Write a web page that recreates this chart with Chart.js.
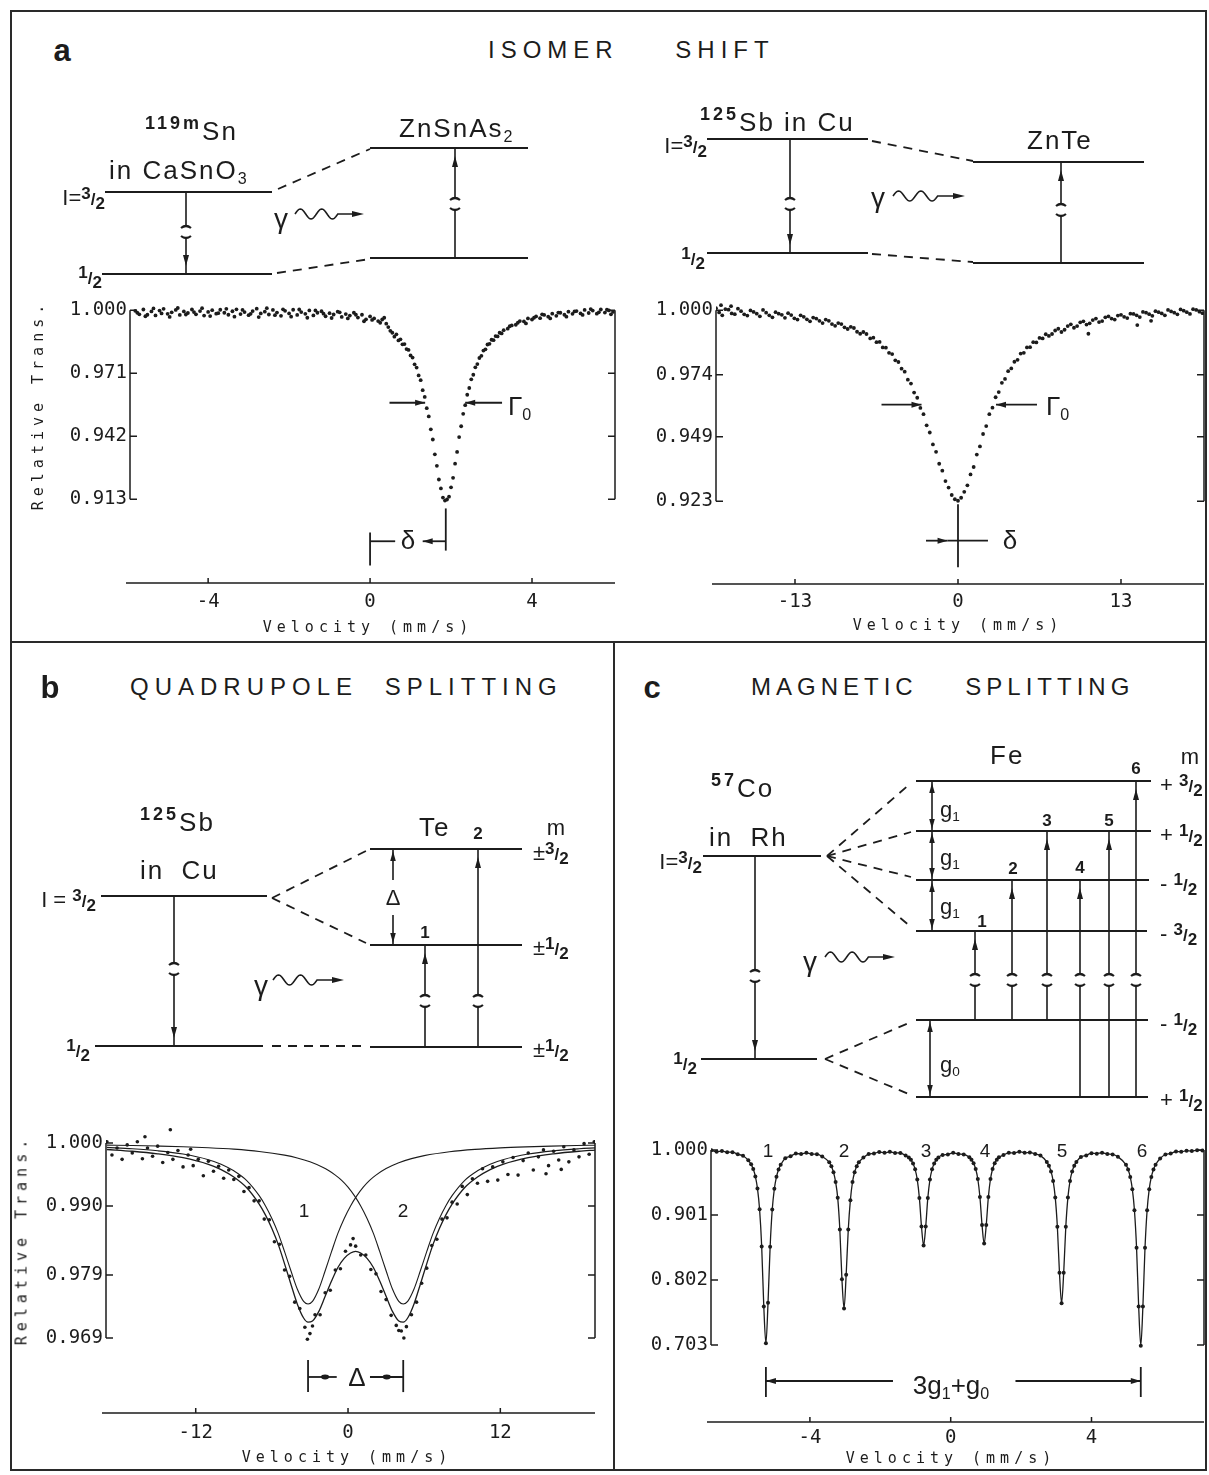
<!DOCTYPE html>
<html lang="en">
<head>
<meta charset="UTF-8">
<title>Mössbauer hyperfine interactions</title>
<script src="https://cdn.jsdelivr.net/npm/chart.js"></script>
<style>
  body { margin: 0; background: #fff; }
  #page { position: relative; width: 1209px; height: 1475px; overflow: hidden; background: #fff; color: #1c1c1c;
          font-family: "Liberation Sans", Arial, sans-serif; }
  canvas { position: absolute; }
  .rule { position: absolute; background: #2a2a2a; }
  .t { position: absolute; white-space: nowrap; line-height: 1; transform: translate(0, -50%); }
  .c { transform: translate(-50%, -50%); }
  .r { transform: translate(-100%, -50%); }
  .vert { transform: translate(-50%, -50%) rotate(-90deg); }
  .pl { font-size: 31px; font-weight: bold; }
  .ttl { font-size: 24px; letter-spacing: 6px; }
  .iso { font-size: 26px; letter-spacing: 2px; }
  .m { font-size: 18px; font-weight: bold; letter-spacing: 3px; position: relative; top: -11px; }
  sub { font-size: 0.62em; vertical-align: baseline; position: relative; top: 0.3em; }
  .lv { font-size: 22px; }
  .fr { font-size: 17px; font-weight: bold; }
  .fr .n { position: relative; top: -6px; }
  .fr .d { position: relative; top: 4px; }
  .num { font-size: 17px; font-weight: bold; }
  .gam { font-size: 28px; }
  .sym { font-size: 26px; }
  .pk { font-size: 19px; }
  .ax { font-family: "DejaVu Sans Mono", monospace; font-size: 15px; letter-spacing: 5px; }
</style>
</head>
<body>
<div id="page">
  <div class="rule" style="left:10px;top:10px;width:1197px;height:2px"></div>
  <div class="rule" style="left:10px;top:1469px;width:1197px;height:2px"></div>
  <div class="rule" style="left:10px;top:10px;width:2px;height:1461px"></div>
  <div class="rule" style="left:1205px;top:10px;width:2px;height:1461px"></div>
  <div class="rule" style="left:10px;top:641px;width:1197px;height:2px"></div>
  <div class="rule" style="left:613px;top:641px;width:2px;height:830px"></div>

  <canvas id="schemeA" width="1209" height="200" style="left:0;top:90px"></canvas>
  <canvas id="schemeB" width="612" height="380" style="left:0;top:720px"></canvas>
  <canvas id="schemeC" width="597" height="400" style="left:612px;top:720px"></canvas>
  <canvas id="specSn" width="600" height="360" style="left:20px;top:280px"></canvas>
  <canvas id="specSb" width="594" height="360" style="left:615px;top:280px"></canvas>
  <canvas id="specTe" width="605" height="360" style="left:10px;top:1110px"></canvas>
  <canvas id="specFe" width="594" height="360" style="left:615px;top:1110px"></canvas>

  <!-- panel a -->
  <div class="t c pl" style="left:62px;top:50px">a</div>
  <div class="t ttl" style="left:488px;top:50px;word-spacing:44px">ISOMER SHIFT</div>
  <div class="t iso" style="left:145px;top:131px"><span class="m">119m</span>Sn</div>
  <div class="t iso" style="left:109px;top:170px">in CaSnO<sub>3</sub></div>
  <div class="t r lv" style="left:105px;top:198px">I=<span class="fr"><span class="n">3</span>/<span class="d">2</span></span></div>
  <div class="t r lv" style="left:102px;top:277px"><span class="fr"><span class="n">1</span>/<span class="d">2</span></span></div>
  <div class="t iso" style="left:399px;top:128px">ZnSnAs<sub>2</sub></div>
  <div class="t c gam" style="left:281px;top:219px">γ</div>
  <div class="t iso" style="left:700px;top:122px"><span class="m">125</span>Sb in Cu</div>
  <div class="t r lv" style="left:707px;top:146px">I=<span class="fr"><span class="n">3</span>/<span class="d">2</span></span></div>
  <div class="t r lv" style="left:705px;top:258px"><span class="fr"><span class="n">1</span>/<span class="d">2</span></span></div>
  <div class="t iso" style="left:1027px;top:140px">ZnTe</div>
  <div class="t c gam" style="left:878px;top:198px">γ</div>
  <div class="t sym" style="left:508px;top:406px">Γ<sub>0</sub></div>
  <div class="t sym" style="left:1046px;top:406px">Γ<sub>0</sub></div>
  <div class="t c sym" style="left:408px;top:540px">δ</div>
  <div class="t c sym" style="left:1010px;top:540px">δ</div>
  <div class="t ax vert" style="left:38px;top:405px">Relative Trans.</div>
  <div class="t c ax" style="left:368px;top:627px">Velocity (mm/s)</div>
  <div class="t c ax" style="left:958px;top:625px">Velocity (mm/s)</div>

  <!-- panel b -->
  <div class="t c pl" style="left:50px;top:687px">b</div>
  <div class="t ttl" style="left:130px;top:687px;word-spacing:14px">QUADRUPOLE SPLITTING</div>
  <div class="t iso" style="left:140px;top:822px"><span class="m">125</span>Sb</div>
  <div class="t iso" style="left:140px;top:870px;word-spacing:8px">in Cu</div>
  <div class="t r lv" style="left:96px;top:900px">I = <span class="fr"><span class="n">3</span>/<span class="d">2</span></span></div>
  <div class="t r lv" style="left:90px;top:1050px"><span class="fr"><span class="n">1</span>/<span class="d">2</span></span></div>
  <div class="t iso" style="left:419px;top:827px">Te</div>
  <div class="t c num" style="left:478px;top:833px">2</div>
  <div class="t c lv" style="left:556px;top:828px">m</div>
  <div class="t lv" style="left:533px;top:853px">±<span class="fr"><span class="n">3</span>/<span class="d">2</span></span></div>
  <div class="t lv" style="left:533px;top:948px">±<span class="fr"><span class="n">1</span>/<span class="d">2</span></span></div>
  <div class="t lv" style="left:533px;top:1050px">±<span class="fr"><span class="n">1</span>/<span class="d">2</span></span></div>
  <div class="t c num" style="left:425px;top:932px">1</div>
  <div class="t c lv" style="left:393px;top:898px">Δ</div>
  <div class="t c gam" style="left:261px;top:986px">γ</div>
  <div class="t c pk" style="left:304px;top:1210px">1</div>
  <div class="t c pk" style="left:403px;top:1210px">2</div>
  <div class="t c sym" style="left:357px;top:1377px">Δ</div>
  <div class="t ax vert" style="left:22px;top:1240px">Relative Trans.</div>
  <div class="t c ax" style="left:347px;top:1457px">Velocity (mm/s)</div>

  <!-- panel c -->
  <div class="t c pl" style="left:652px;top:687px">c</div>
  <div class="t ttl" style="left:751px;top:687px;letter-spacing:5px;word-spacing:36px">MAGNETIC SPLITTING</div>
  <div class="t iso" style="left:711px;top:788px"><span class="m">57</span>Co</div>
  <div class="t iso" style="left:709px;top:837px;word-spacing:8px">in Rh</div>
  <div class="t r lv" style="left:702px;top:862px">I=<span class="fr"><span class="n">3</span>/<span class="d">2</span></span></div>
  <div class="t r lv" style="left:697px;top:1063px"><span class="fr"><span class="n">1</span>/<span class="d">2</span></span></div>
  <div class="t iso" style="left:990px;top:755px">Fe</div>
  <div class="t c lv" style="left:1190px;top:757px">m</div>
  <div class="t lv" style="left:1160px;top:785px">+ <span class="fr"><span class="n">3</span>/<span class="d">2</span></span></div>
  <div class="t lv" style="left:1160px;top:835px">+ <span class="fr"><span class="n">1</span>/<span class="d">2</span></span></div>
  <div class="t lv" style="left:1160px;top:884px">- <span class="fr"><span class="n">1</span>/<span class="d">2</span></span></div>
  <div class="t lv" style="left:1160px;top:934px">- <span class="fr"><span class="n">3</span>/<span class="d">2</span></span></div>
  <div class="t lv" style="left:1160px;top:1024px">- <span class="fr"><span class="n">1</span>/<span class="d">2</span></span></div>
  <div class="t lv" style="left:1160px;top:1100px">+ <span class="fr"><span class="n">1</span>/<span class="d">2</span></span></div>
  <div class="t c num" style="left:982px;top:921px">1</div>
  <div class="t c num" style="left:1013px;top:868px">2</div>
  <div class="t c num" style="left:1047px;top:820px">3</div>
  <div class="t c num" style="left:1080px;top:867px">4</div>
  <div class="t c num" style="left:1109px;top:820px">5</div>
  <div class="t c num" style="left:1136px;top:768px">6</div>
  <div class="t lv" style="left:940px;top:810px">g<sub>1</sub></div>
  <div class="t lv" style="left:940px;top:858px">g<sub>1</sub></div>
  <div class="t lv" style="left:940px;top:907px">g<sub>1</sub></div>
  <div class="t lv" style="left:940px;top:1065px">g<sub>0</sub></div>
  <div class="t c gam" style="left:810px;top:962px">γ</div>
  <div class="t c pk" style="left:768px;top:1150px">1</div>
  <div class="t c pk" style="left:844px;top:1150px">2</div>
  <div class="t c pk" style="left:926px;top:1150px">3</div>
  <div class="t c pk" style="left:985px;top:1150px">4</div>
  <div class="t c pk" style="left:1062px;top:1150px">5</div>
  <div class="t c pk" style="left:1142px;top:1150px">6</div>
  <div class="t c sym" style="left:951px;top:1385px">3g<sub>1</sub>+g<sub>0</sub></div>
  <div class="t c ax" style="left:951px;top:1458px">Velocity (mm/s)</div>
</div>

<script>
const INK = '#1c1c1c';

// ---- spectra: [velocity mm/s, relative transmission] ----
const snSpectrum = [
  [-5.8,.9997],[-5.7,.9981],[-5.6,1.0003],[-5.5,.9979],[-5.4,.9994],[-5.3,.9976],[-5.2,.9998],[-5.1,1.0006],
  [-5.0,.9983],[-4.9,.9990],[-4.8,1.0001],[-4.7,.9978],[-4.6,.9994],[-4.5,.9987],[-4.4,1.0003],[-4.3,.9981],
  [-4.2,.9996],[-4.1,.9975],[-4.0,.9992],[-3.9,1.0000],[-3.8,.9984],[-3.7,1.0002],[-3.6,.9988],[-3.5,.9979],
  [-3.4,.9995],[-3.3,1.0004],[-3.2,.9982],[-3.1,.9991],[-3.0,.9977],[-2.9,.9996],[-2.8,1.0007],[-2.7,.9985],
  [-2.6,.9993],[-2.5,.9980],[-2.4,1.0001],[-2.3,.9989],[-2.2,.9974],[-2.1,.9997],[-2.0,.9985],[-1.9,1.0002],
  [-1.8,.9978],[-1.7,.9991],[-1.6,.9983],[-1.5,.9999],[-1.4,.9976],[-1.3,.9988],[-1.2,.9995],[-1.1,.9972],
  [-1.0,.9986],[-0.9,.9980],[-0.8,.9993],[-0.7,.9969],[-0.6,.9982],[-0.5,.9975],[-0.4,.9988],[-0.3,.9966],
  [-0.2,.9979],[-0.1,.9958],[0.0,.9971],[0.1,.9962],[0.2,.9950],[0.3,.9957],[0.4,.9938],
  [0.45,.9922],[0.50,.9905],[0.55,.9896],[0.60,.9878],[0.65,.9889],[0.70,.9861],[0.75,.9866],[0.80,.9843],
  [0.85,.9844],[0.90,.9821],[0.95,.9817],[1.00,.9792],[1.05,.9782],[1.10,.9751],[1.15,.9736],[1.20,.9700],
  [1.25,.9678],[1.30,.9632],[1.35,.9601],[1.40,.9549],[1.45,.9511],[1.50,.9452],[1.55,.9405],[1.60,.9337],
  [1.65,.9284],[1.70,.9221],[1.75,.9180],[1.80,.9138],[1.85,.9124],[1.90,.9129],[1.95,.9142],[2.00,.9185],
  [2.05,.9229],[2.10,.9294],[2.15,.9348],[2.20,.9416],[2.25,.9466],[2.30,.9523],[2.35,.9563],[2.40,.9611],
  [2.45,.9642],[2.50,.9682],[2.55,.9703],[2.60,.9737],[2.65,.9752],[2.70,.9780],[2.75,.9790],[2.80,.9814],
  [2.85,.9820],[2.90,.9842],[2.95,.9845],[3.00,.9864],[3.05,.9862],[3.10,.9881],[3.15,.9879],[3.20,.9896],
  [3.25,.9893],[3.30,.9908],[3.4,.9915],[3.5,.9930],[3.6,.9933],[3.7,.9950],[3.8,.9948],[3.9,.9962],
  [4.0,.9957],[4.1,.9971],[4.2,.9963],[4.3,.9978],[4.4,.9970],[4.5,.9984],[4.6,.9974],[4.7,.9988],
  [4.8,.9979],[4.9,.9993],[5.0,.9983],[5.1,.9996],[5.2,.9985],[5.3,1.0001],[5.4,.9987],[5.5,.9998],
  [5.6,.9984],[5.7,1.0003],[5.8,.9989],[5.9,.9999],[6.0,.9992],
  // interleaved channels of the scattered baseline
  [-5.75,.9988],[-5.55,.9972],[-5.35,1.0008],[-5.15,.9985],[-4.95,.9969],[-4.75,1.0010],[-4.55,.9980],
  [-4.35,.9991],[-4.15,1.0009],[-3.95,.9973],[-3.75,.9986],[-3.55,1.0006],[-3.35,.9970],[-3.15,1.0001],
  [-2.95,.9983],[-2.75,.9968],[-2.55,1.0009],[-2.35,.9977],[-2.15,1.0004],[-1.95,.9970],[-1.75,1.0003],
  [-1.55,.9965],[-1.35,.9999],[-1.15,.9984],[-0.95,.9964],[-0.75,.9990],[-0.55,.9962],[-0.35,.9979],
  [-0.15,.9949],[0.05,.9955],[0.25,.9942],[0.35,.9965],
  [3.45,.9926],[3.65,.9942],[3.85,.9939],[4.05,.9965],[4.25,.9981],[4.45,.9962],[4.65,.9989],[4.85,.9970],
  [5.05,.9994],[5.25,.9978],[5.45,1.0005],[5.65,.9990],[5.85,1.0002],[5.95,.9981]
];

const sbSpectrum = [
  [-19.3,1.0008],[-18.9,1.0020],[-18.8,.9979],[-18.3,1.0002],[-18.1,1.0016],[-17.8,.9984],[-17.3,.9996],
  [-16.8,.9978],[-16.3,.9993],[-15.8,.9975],[-15.3,.9990],[-14.8,.9971],[-14.3,.9986],[-13.8,.9969],
  [-13.3,.9980],[-12.8,.9962],[-12.3,.9973],[-11.8,.9955],[-11.3,.9966],[-10.8,.9948],[-10.3,.9957],
  [-9.8,.9937],[-9.3,.9944],[-8.8,.9924],[-8.3,.9928],[-7.8,.9905],[-7.3,.9904],
  [-7.0,.9886],[-6.75,.9889],[-6.5,.9871],[-6.25,.9872],[-6.0,.9850],[-5.75,.9849],[-5.5,.9828],[-5.25,.9823],
  [-5.0,.9798],[-4.75,.9791],[-4.5,.9764],[-4.25,.9752],[-4.0,.9720],[-3.75,.9704],[-3.5,.9668],[-3.25,.9647],
  [-3.0,.9606],[-2.75,.9581],[-2.5,.9536],[-2.25,.9507],[-2.0,.9459],[-1.75,.9429],[-1.5,.9381],[-1.25,.9353],
  [-1.0,.9311],[-0.75,.9285],[-0.5,.9255],[-0.25,.9238],[0.0,.9232],[0.25,.9244],[0.5,.9268],[0.75,.9294],
  [1.0,.9338],[1.25,.9368],[1.5,.9418],[1.75,.9451],[2.0,.9501],[2.25,.9533],[2.5,.9581],[2.75,.9607],
  [3.0,.9649],[3.25,.9670],[3.5,.9707],[3.75,.9723],[4.0,.9754],[4.25,.9765],[4.5,.9792],[4.75,.9800],
  [5.0,.9825],[5.25,.9828],[5.5,.9850],[5.75,.9851],[6.0,.9871],[6.25,.9870],[6.5,.9888],[6.75,.9886],
  [7.0,.9903],[7.5,.9904],[8.0,.9925],[8.5,.9921],[9.0,.9943],[9.5,.9936],[10.0,.9955],[10.4,.9905],
  [10.5,.9947],[11.0,.9966],[11.5,.9956],[12.0,.9975],[12.5,.9962],[13.0,.9981],[13.5,.9968],[14.0,.9985],
  [14.3,.9940],[14.5,.9972],[15.0,.9990],[15.4,.9957],[15.5,.9977],[16.0,.9992],[16.5,.9979],[17.0,.9995],
  [17.5,.9983],[18.0,.9998],[18.5,.9985],[19.0,1.0001],[19.5,.9988],
  // interleaved wing channels
  [-19.05,.9991],[-18.55,1.0004],[-18.05,.9987],[-17.55,1.0006],[-17.05,.9983],[-16.55,.9999],[-16.05,.9986],
  [-15.55,1.0001],[-15.05,.9979],[-14.55,.9992],[-14.05,.9981],[-13.55,.9988],[-13.05,.9967],[-12.55,.9979],
  [-12.05,.9963],[-11.55,.9970],[-11.05,.9957],[-10.55,.9962],[-10.05,.9944],[-9.55,.9948],[-9.05,.9931],
  [-8.55,.9933],[-8.05,.9913],[-7.55,.9912],
  [7.25,.9896],[7.75,.9918],[8.25,.9912],[8.75,.9936],[9.25,.9929],[9.75,.9951],[10.25,.9942],[10.75,.9960],
  [11.25,.9952],[11.75,.9971],[12.25,.9966],[12.75,.9978],[13.25,.9973],[13.75,.9986],[14.25,.9979],
  [14.75,.9993],[15.25,.9984],[15.75,.9996],[16.25,.9987],[16.75,1.0001],[17.25,.9990],[17.75,1.0003],
  [18.25,.9992],[18.75,1.0004],[19.25,.9994]
];

const teSpectrum = [
  [-19.0,1.0002],[-18.6,.9981],[-18.2,.9992],[-17.8,.9974],[-17.4,.9997],[-17.0,.9984],[-16.6,1.0002],
  [-16.2,.9975],[-16.0,1.0010],[-15.8,.9992],[-15.4,.9979],[-15.0,.9995],[-14.6,.9969],[-14.2,.9985],
  [-14.0,1.0021],[-13.8,.9974],[-13.4,.9988],[-13.0,.9962],[-12.6,.9981],[-12.4,.9990],[-12.2,.9964],
  [-11.8,.9974],[-11.4,.9948],[-11.0,.9971],[-10.6,.9955],[-10.2,.9963],[-9.8,.9944],[-9.4,.9957],
  [-9.0,.9942],[-8.6,.9947],[-8.2,.9923],[-7.8,.9929],[-7.4,.9908],[-7.0,.9908],[-6.6,.9879],[-6.2,.9878],
  [-5.8,.9843],[-5.4,.9839],[-5.0,.9798],[-4.6,.9788],[-4.2,.9747],[-3.8,.9737],[-3.4,.9707],[-3.2,.9688],
  [-3.0,.9697],[-2.8,.9709],[-2.6,.9727],[-2.2,.9727],[-1.8,.9762],[-1.4,.9766],[-1.0,.9798],[-0.6,.9800],
  [-0.2,.9828],[0.2,.9838],[0.4,.9848],[0.6,.9836],[1.0,.9822],[1.4,.9822],[1.8,.9799],[2.2,.9792],
  [2.6,.9764],[3.0,.9751],[3.4,.9726],[3.8,.9710],[4.0,.9702],[4.2,.9701],[4.4,.9690],[4.6,.9708],
  [5.0,.9727],[5.4,.9747],[5.8,.9777],[6.2,.9801],[6.6,.9837],[7.0,.9847],[7.4,.9879],[7.8,.9881],
  [8.2,.9906],[8.6,.9903],[9.0,.9931],[9.4,.9918],[9.8,.9943],[10.2,.9936],[10.6,.9959],[11.0,.9939],
  [11.4,.9962],[11.8,.9941],[12.2,.9970],[12.6,.9950],[13.0,.9977],[13.4,.9949],[13.8,.9972],[14.2,.9984],
  [14.6,.9957],[15.0,.9978],[15.4,.9989],[15.6,.9951],[15.8,.9964],[16.2,.9987],[16.6,.9973],[16.8,.9958],
  [17.0,.9994],[17.4,.9970],[17.8,.9989],[18.2,.9978],[18.6,.9999],[19.0,.9982],[19.4,1.0002]
];
// fitted envelope and the two quadrupole components of panel b
const teFitSum = [
  [-19,.99897],[-17,.99869],[-15,.99828],[-13,.99766],[-11,.9966],[-10,.99578],[-9,.9946],[-8,.99293],
  [-7,.99029],[-6.5,.98854],[-6,.98641],[-5.5,.98388],[-5,.98079],[-4.5,.97755],[-4,.97442],[-3.5,.97218],
  [-3.15,.97152],[-2.8,.9717],[-2.3,.97323],[-1.8,.97563],[-1.3,.97805],[-0.8,.98021],[-0.3,.98166],
  [0.2,.98251],[0.6,.98278],[1.0,.98251],[1.5,.98166],[2.0,.98021],[2.5,.97805],[3.0,.97563],[3.5,.97323],
  [4.0,.9717],[4.35,.97152],[4.7,.97218],[5.2,.97442],[5.7,.97755],[6.2,.98079],[6.7,.98388],[7.2,.98641],
  [7.7,.98854],[8.2,.99029],[9.2,.99293],[10.2,.9946],[11.2,.99578],[12.2,.9966],[14.2,.99766],
  [16.2,.99828],[18.2,.99869],[19.5,.99888]
];
const teLine1 = [
  [-19,.9993],[-17,.99908],[-15,.99876],[-13,.99825],[-11,.99735],[-10,.99664],[-9,.99558],[-8,.99407],
  [-7,.99163],[-6.5,.99],[-6,.98801],[-5.5,.98563],[-5,.98272],[-4.5,.97969],[-4,.97679],[-3.5,.97483],
  [-3.15,.9744],[-2.8,.97483],[-2.3,.97679],[-1.8,.97969],[-1.3,.98272],[-0.8,.98563],[-0.3,.98801],
  [0.2,.99],[0.7,.99163],[1.2,.99299],[1.7,.99407],[2.2,.9949],[3,.99594],[4,.99687],[5,.99752],[6,.99799],
  [8,.99861],[10,.99899],[12,.99923],[14,.99939],[16,.99951],[18,.9996],[19.5,.99965]
];
const teLine2 = [
  [-19,.99967],[-17,.99961],[-15,.99952],[-13,.99941],[-11,.99925],[-9,.99902],[-7,.99866],[-5,.99807],
  [-4,.99763],[-3,.99702],[-2,.99615],[-1.5,.99558],[-1,.9949],[-0.5,.99407],[0,.99299],[0.5,.99163],
  [1,.99],[1.5,.98801],[2,.98563],[2.5,.98272],[3,.97969],[3.5,.97679],[4,.97483],[4.35,.9744],[4.7,.97483],
  [5.2,.97679],[5.7,.97969],[6.2,.98272],[6.7,.98563],[7.2,.98801],[7.7,.99],[8.2,.99163],[9.2,.99407],
  [10.2,.99558],[11.2,.99664],[12.2,.99735],[14.2,.99825],[16.2,.99876],[18.2,.99908],[19.5,.99923]
];

const feSpectrum = [
  [-6.8,.9997],[-6.65,.9975],[-6.5,.9986],[-6.35,.9967],[-6.2,.9967],[-6.05,.9935],[-5.9,.9912],[-5.75,.9842],
  [-5.67,.9782],[-5.61,.9710],[-5.55,.9598],[-5.49,.9415],[-5.43,.9097],[-5.37,.8530],[-5.31,.7618],[-5.25,.7055],
  [-5.19,.7672],[-5.13,.8527],[-5.07,.9093],[-5.01,.9410],[-4.95,.9592],[-4.89,.9703],[-4.83,.9775],
  [-4.7,.9874],[-4.55,.9903],[-4.4,.9946],[-4.25,.9940],[-4.1,.9957],[-3.95,.9938],[-3.8,.9937],[-3.65,.9900],
  [-3.45,.9813],[-3.39,.9754],[-3.33,.9663],[-3.27,.9513],[-3.21,.9271],[-3.15,.8790],[-3.09,.8032],[-3.03,.7585],
  [-2.97,.8101],[-2.91,.8790],[-2.85,.9236],[-2.79,.9513],[-2.73,.9663],[-2.67,.9754],[-2.61,.9813],
  [-2.48,.9884],[-2.33,.9938],[-2.18,.9946],[-2.03,.9971],[-1.88,.9957],[-1.73,.9973],[-1.58,.9955],[-1.43,.9954],
  [-1.28,.9916],[-1.19,.9886],[-1.13,.9850],[-1.07,.9795],[-1.01,.9705],[-0.95,.9549],[-0.89,.9270],[-0.83,.8835],
  [-0.77,.8545],[-0.71,.8835],[-0.65,.9270],[-0.59,.9549],[-0.53,.9705],[-0.47,.9795],[-0.41,.9850],[-0.35,.9886],
  [-0.23,.9924],[-0.08,.9933],[0.07,.9957],[0.22,.9938],[0.37,.9932],
  [0.53,.9888],[0.59,.9853],[0.65,.9799],[0.71,.9711],[0.77,.9558],[0.83,.9285],[0.89,.8859],[0.95,.8575],
  [1.01,.8859],[1.07,.9285],[1.13,.9558],[1.19,.9711],[1.25,.9799],[1.31,.9853],[1.37,.9888],
  [1.50,.9923],[1.65,.9957],[1.80,.9953],[1.95,.9975],[2.10,.9957],[2.25,.9963],[2.40,.9938],[2.55,.9915],
  [2.73,.9819],[2.79,.9762],[2.85,.9674],[2.91,.9529],[2.97,.9278],[3.03,.8830],[3.09,.8131],[3.15,.7665],
  [3.21,.8131],[3.27,.8830],[3.33,.9278],[3.39,.9529],[3.45,.9674],[3.51,.9762],[3.57,.9819],
  [3.70,.9895],[3.85,.9917],[4.00,.9952],[4.15,.9944],[4.30,.9958],[4.45,.9938],[4.60,.9932],[4.75,.9896],
  [4.98,.9775],[5.04,.9702],[5.10,.9589],[5.16,.9404],[5.22,.9083],[5.28,.8510],[5.34,.7616],[5.40,.7020],
  [5.46,.7616],[5.52,.8510],[5.58,.9083],[5.64,.9404],[5.70,.9589],[5.76,.9702],[5.82,.9775],
  [5.95,.9870],[6.10,.9932],[6.25,.9947],[6.40,.9977],[6.55,.9972],[6.70,.9990],[6.85,.9983],[7.00,.9997],[7.15,.9993]
];

// tick values printed on the plots
const snXTicks = [-4, 0, 4],   snYTicks = [1.000, 0.971, 0.942, 0.913];
const sbXTicks = [-13, 0, 13], sbYTicks = [1.000, 0.974, 0.949, 0.923];
const teXTicks = [-12, 0, 12], teYTicks = [1.000, 0.990, 0.979, 0.969];
const feXTicks = [-4, 0, 4],   feYTicks = [1.000, 0.901, 0.802, 0.703];

// width / shift markers drawn in data units: [kind, x1, y1, x2, y2]
const snMarks = [
  ['arrow', 0.48, 0.9574, 1.36, 0.9574], ['arrow', 3.26, 0.9574, 2.35, 0.9574],
  ['seg', 0, 0.8977, 0, 0.8826], ['seg', 1.87, 0.9088, 1.87, 0.8894],
  ['seg', 0, 0.8937, 0.62, 0.8937], ['arrow', 1.87, 0.8937, 1.30, 0.8937]
];
const sbMarks = [
  ['arrow', -6.1, 0.9619, -2.91, 0.9619], ['arrow', 6.3, 0.9619, 3.03, 0.9619],
  ['seg', 0, 0.9218, 0, 0.8964], ['arrow', -2.55, 0.9071, -0.83, 0.9071], ['seg', -0.83, 0.9071, 2.39, 0.9071]
];
const teMarks = [
  ['seg', -3.15, 0.9655, -3.15, 0.9604], ['seg', 4.35, 0.9655, 4.35, 0.9604],
  ['seg', -3.15, 0.9628, -0.89, 0.9628], ['seg', 1.73, 0.9628, 4.35, 0.9628],
  ['dot', -1.81, 0.9628], ['dot', 3.05, 0.9628]
];
const feMarks = [
  ['seg', -5.25, 0.6695, -5.25, 0.6238], ['seg', 5.40, 0.6695, 5.40, 0.6238],
  ['arrow', -1.64, 0.6482, -5.25, 0.6482], ['arrow', 1.84, 0.6482, 5.40, 0.6482]
];

// ---- level schemes (diagram units: x across, E upward) ----
// levels [x1, x2, E], dashes [x1, E1, x2, E2], transitions [x, fromE, toE, breakE],
// splittings [x, lowE, highE, gapLow, gapHigh], photons [x0, x1, E]
const aLevels = [[105,272,98],[102,272,16],[370,528,142],[370,528,32],[707,868,151],[707,868,37],[973,1144,128],[973,1144,27]];
const aDashes = [[278,101,370,141],[277,17,370,31],[872,149,973,129],[872,36,973,28]];
const aTransitions = [[186,98,16,58],[455,32,142,86],[790,151,37,86],[1061,27,128,80]];
const aPhotons = [[295,364,76],[893,965,94]];

const bLevels = [[101,267,204],[95,263,54],[370,522,251],[370,522,155],[370,522,53]];
const bDashes = [[272,202,366,249],[272,202,366,157],[272,54,362,54]];
const bTransitions = [[174,204,54,131],[425,53,155,99],[478,53,251,99]];
const bSplittings = [[393,155,251,185,220]];
const bPhotons = [[273,344,120]];

const cLevels = [[703,821,264],[701,817,61],[916,1151,339],[916,1151,289],[916,1149,240],[916,1147,189],[916,1148,100],[916,1148,23]];
const cDashes = [[827,264,911,337],[827,264,911,288],[827,264,911,243],[827,264,911,193],[825,61,911,98],[825,61,911,25]];
const cTransitions = [[755,264,61,144],[975,100,189,140],[1012,100,240,140],[1047,100,289,140],[1080,23,240,140],[1109,23,289,140],[1136,23,339,140]];
const cSplittings = [[932,289,339],[932,240,289],[932,189,240],[930,23,100]];
const cPhotons = [[825,895,163]];

Chart.defaults.font.family = '"Liberation Sans", Arial, sans-serif';
Chart.defaults.color = INK;

function head(ctx, x, y, dx, dy, len, half) {
  ctx.beginPath();
  ctx.moveTo(x, y);
  ctx.lineTo(x - dx * len - dy * half, y - dy * len + dx * half);
  ctx.lineTo(x - dx * len + dy * half, y - dy * len - dx * half);
  ctx.closePath();
  ctx.fill();
}

const toXY = pts => pts.map(([x, y]) => ({ x, y }));

function framePlugin(xTicks, yTicks, marks) {
  return {
    id: 'frame',
    afterDatasetsDraw(chart) {
      const { ctx, chartArea: a, scales: { x, y } } = chart;
      const X = v => x.getPixelForValue(v), Y = v => y.getPixelForValue(v);
      const top = Y(yTicks[0]), bot = Y(yTicks[yTicks.length - 1]);
      ctx.save();
      ctx.strokeStyle = INK; ctx.fillStyle = INK; ctx.lineWidth = 1.5;
      ctx.beginPath();
      [[a.left, 7], [a.right, -7]].forEach(([px, t]) => {
        ctx.moveTo(px, top); ctx.lineTo(px, bot);
        yTicks.forEach(v => { ctx.moveTo(px, Y(v)); ctx.lineTo(px + t, Y(v)); });
      });
      ctx.moveTo(a.left - 4, a.bottom); ctx.lineTo(a.right, a.bottom);
      xTicks.forEach(v => { ctx.moveTo(X(v), a.bottom); ctx.lineTo(X(v), a.bottom - 5); });
      ctx.stroke();

      ctx.lineWidth = 1.8;
      marks.forEach(([kind, x1, y1, x2, y2]) => {
        if (kind === 'dot') {
          ctx.beginPath(); ctx.ellipse(X(x1), Y(y1), 4, 2.4, 0, 0, 2 * Math.PI); ctx.fill();
          return;
        }
        const p1 = [X(x1), Y(y1)], p2 = [X(x2), Y(y2)];
        ctx.beginPath(); ctx.moveTo(...p1); ctx.lineTo(...p2); ctx.stroke();
        if (kind === 'arrow') {
          const d = Math.hypot(p2[0] - p1[0], p2[1] - p1[1]);
          head(ctx, p2[0], p2[1], (p2[0] - p1[0]) / d, (p2[1] - p1[1]) / d, 10, 3);
        }
      });
      ctx.restore();
    }
  };
}

function spectrum(id, opt) {
  const tickFont = { family: '"DejaVu Sans Mono", monospace', size: 19 };
  return new Chart(document.getElementById(id), {
    type: 'scatter',
    data: { datasets: opt.datasets },
    options: {
      responsive: false, animation: false, events: [],
      layout: { padding: { top: opt.padTop, right: opt.padRight, bottom: 0, left: 0 } },
      plugins: { legend: { display: false }, tooltip: { enabled: false } },
      scales: {
        x: {
          type: 'linear', min: opt.x[0], max: opt.x[1],
          afterFit: s => { s.height = opt.axisH; },
          afterBuildTicks: s => { s.ticks = opt.xTicks.map(v => ({ value: v })); },
          grid: { display: false, drawTicks: false }, border: { display: false },
          ticks: { padding: opt.xPad, color: INK, font: tickFont, callback: v => String(v) }
        },
        y: {
          type: 'linear', min: opt.y[0], max: opt.y[1],
          afterFit: s => { s.width = opt.axisW; },
          afterBuildTicks: s => { s.ticks = opt.yTicks.map(v => ({ value: v })); },
          grid: { display: false, drawTicks: false }, border: { display: false },
          ticks: { padding: 3, color: INK, font: tickFont, callback: v => v.toFixed(3) }
        }
      }
    },
    plugins: [framePlugin(opt.xTicks, opt.yTicks, opt.marks)]
  });
}

const dots = (pts, r) => ({ data: toXY(pts), pointRadius: r, pointBackgroundColor: INK, pointBorderWidth: 0, showLine: false });
const curve = (pts, w) => ({ data: toXY(pts), showLine: true, borderColor: INK, borderWidth: w, pointRadius: 0, cubicInterpolationMode: 'monotone' });

spectrum('specSn', {
  x: [-5.93, 6.05], y: [0.8745, 1.00725], axisW: 110, axisH: 57, padTop: 10, padRight: 5, xPad: 8,
  xTicks: snXTicks, yTicks: snYTicks, marks: snMarks, datasets: [dots(snSpectrum, 1.9)]
});
spectrum('specSb', {
  x: [-19.3, 19.62], y: [0.88964, 1.00635], axisW: 101, axisH: 56, padTop: 10, padRight: 5, xPad: 7,
  xTicks: sbXTicks, yTicks: sbYTicks, marks: sbMarks, datasets: [dots(sbSpectrum, 1.9)]
});
spectrum('specTe', {
  x: [-19.07, 19.46], y: [0.957075, 1.002385], axisW: 96, axisH: 57, padTop: 18, padRight: 20, xPad: 9,
  xTicks: teXTicks, yTicks: teYTicks, marks: teMarks,
  datasets: [dots(teSpectrum, 1.8), curve(teFitSum, 1.3), curve(teLine1, 1.1), curve(teLine2, 1.1)]
});
spectrum('specFe', {
  x: [-6.81, 7.196], y: [0.58574, 1.03046], axisW: 96, axisH: 48, padTop: 20, padRight: 5, xPad: 5,
  xTicks: feXTicks, yTicks: feYTicks, marks: feMarks,
  datasets: [{ ...curve(feSpectrum, 1.3), pointRadius: 2, pointBackgroundColor: INK, pointBorderWidth: 0 }]
});

function schemePlugin(transitions, splittings, photons) {
  return {
    id: 'scheme',
    afterDatasetsDraw(chart) {
      const { ctx, scales: { x, y } } = chart;
      const X = v => x.getPixelForValue(v), Y = v => y.getPixelForValue(v);
      ctx.save();
      ctx.strokeStyle = INK; ctx.fillStyle = INK; ctx.lineWidth = 1.6;
      transitions.forEach(([xv, from, to, brk]) => {
        const px = X(xv), p0 = Y(from), p1 = Y(to), pb = Y(brk);
        const up = p1 < p0;
        const top = Math.min(p0, p1), bot = Math.max(p0, p1);
        ctx.lineWidth = 1.6;
        ctx.beginPath();
        ctx.moveTo(px, top); ctx.lineTo(px, pb - 6);
        ctx.moveTo(px, pb + 6); ctx.lineTo(px, bot);
        ctx.stroke();
        ctx.lineWidth = 2.2;
        ctx.beginPath();
        ctx.moveTo(px - 5, pb - 4); ctx.quadraticCurveTo(px, pb - 8, px + 5, pb - 4);
        ctx.moveTo(px - 5, pb + 4); ctx.quadraticCurveTo(px, pb + 8, px + 5, pb + 4);
        ctx.stroke();
        head(ctx, px, up ? p1 + 8 : p1 - 8, 0, up ? -1 : 1, 11, 3);
      });
      ctx.lineWidth = 1.6;
      splittings.forEach(([xv, lo, hi, g0, g1]) => {
        const px = X(xv), pl = Y(lo), ph = Y(hi);
        ctx.beginPath();
        if (g0 !== undefined) {
          ctx.moveTo(px, ph); ctx.lineTo(px, Y(g1));
          ctx.moveTo(px, Y(g0)); ctx.lineTo(px, pl);
        } else {
          ctx.moveTo(px, ph); ctx.lineTo(px, pl);
        }
        ctx.stroke();
        head(ctx, px, ph + 2, 0, -1, 10, 2.8);
        head(ctx, px, pl - 2, 0, 1, 10, 2.8);
      });
      photons.forEach(([x0, x1, e]) => {
        const a = X(x0), b = X(x1), py = Y(e), w = (b - a) * 0.62;
        ctx.beginPath();
        for (let i = 0; i <= 48; i++) {
          const t = i / 48, xx = a + t * w, yy = py - 5 * Math.sin(t * 4 * Math.PI);
          if (i === 0) ctx.moveTo(xx, yy); else ctx.lineTo(xx, yy);
        }
        ctx.lineTo(b - 4, py);
        ctx.stroke();
        head(ctx, b, py, 1, 0, 12, 3);
      });
      ctx.restore();
    }
  };
}

function scheme(id, xr, yr, levels, dashes, transitions, splittings, photons) {
  const datasets = [
    ...levels.map(([x1, x2, e]) => ({
      data: [{ x: x1, y: e }, { x: x2, y: e }], showLine: true, borderColor: INK, borderWidth: 2.2, pointRadius: 0
    })),
    ...dashes.map(([x1, e1, x2, e2]) => ({
      data: [{ x: x1, y: e1 }, { x: x2, y: e2 }], showLine: true, borderColor: INK, borderWidth: 1.8,
      borderDash: [9, 7], pointRadius: 0
    }))
  ];
  return new Chart(document.getElementById(id), {
    type: 'scatter',
    data: { datasets },
    options: {
      responsive: false, animation: false, events: [],
      layout: { padding: 0 },
      plugins: { legend: { display: false }, tooltip: { enabled: false } },
      scales: {
        x: { type: 'linear', display: false, min: xr[0], max: xr[1] },
        y: { type: 'linear', display: false, min: yr[0], max: yr[1] }
      }
    },
    plugins: [schemePlugin(transitions, splittings, photons)]
  });
}

scheme('schemeA', [0, 1209], [0, 200], aLevels, aDashes, aTransitions, [], aPhotons);
scheme('schemeB', [0, 612], [0, 380], bLevels, bDashes, bTransitions, bSplittings, bPhotons);
scheme('schemeC', [612, 1209], [0, 400], cLevels, cDashes, cTransitions, cSplittings, cPhotons);
</script>
</body>
</html>
